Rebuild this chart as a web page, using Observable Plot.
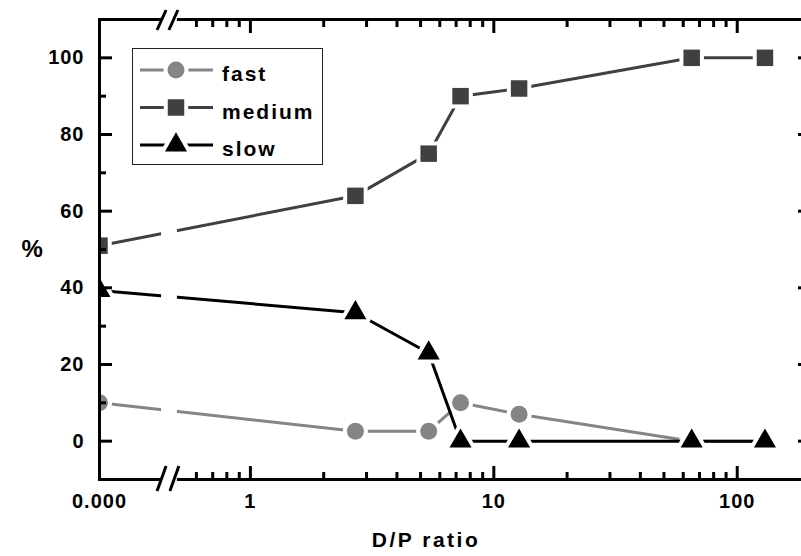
<!DOCTYPE html>
<html><head><meta charset="utf-8">
<script src="https://cdn.jsdelivr.net/npm/d3@7"></script>
<script src="https://cdn.jsdelivr.net/npm/@observablehq/plot@0.6"></script>
<style>
body{margin:0;background:#fff;}
#chart{position:relative;width:801px;height:556px;overflow:hidden;}
</style></head><body><div id="chart"></div>
<script>
// ---- data ----
const ratio  = [0, 2.7, 5.4, 7.3, 12.7, 65, 130];
const fast   = [10, 2.6, 2.6, 10, 7, 0, 0];
const medium = [51, 64, 75, 90, 92, 100, 100];
const slow   = [39.3, 33.5, 23, 0, 0, 0, 0];
const seriesNames = ["fast", "medium", "slow"];
const xTickValues = [0, 1, 10, 100];
const xTickLabels = ["0.000", "1", "10", "100"];
const xMinorValues = [0.6, 0.7, 0.8, 0.9, 2, 3, 4, 5, 6, 7, 8, 9, 20, 30, 40, 50, 60, 70, 80, 90];
const yTickValues = [0, 20, 40, 60, 80, 100];
const yMinorValues = [10, 30, 50, 70, 90];
const xMax = 200;

// broken log axis: 0 sits at xZero (log10 units), then a break
const xZero = -0.62;
const breakGap = [-0.365, -0.30];
const pos = v => v === 0 ? xZero : Math.log10(v);

const seriesValues = {fast, medium, slow};
const styles = {
  fast:   {color: "#858585", symbol: "circle",   r: 8.5,  d3sym: d3.symbolCircle},
  medium: {color: "#404040", symbol: "square",   r: 9.3,  d3sym: d3.symbolSquare},
  slow:   {color: "#000000", symbol: "triangle", r: 8.2,  d3sym: d3.symbolTriangle}
};
const rows = seriesNames.flatMap(s => ratio.map((r, i) => ({u: pos(r), y: seriesValues[s][i], s})));

const font = "'Liberation Sans', Arial, sans-serif";
const labelMap = new Map(xTickValues.map((v, i) => [pos(v), xTickLabels[i]]));

const marks = [];
for (const s of seriesNames) {
  const st = styles[s];
  const d = rows.filter(r => r.s === s);
  marks.push(Plot.line(d, {x: "u", y: "y", stroke: st.color, strokeWidth: 3}));
  marks.push(Plot.dot(d, {x: "u", y: "y", symbol: st.symbol, r: st.r, fill: st.color,
    stroke: "white", strokeWidth: 8, paintOrder: "stroke", strokeLinejoin: "round", clip: true}));
}
marks.push(Plot.frame({stroke: "black", strokeWidth: 3}));
// inward ticks
const tickOpts = {tickFormat: () => "", strokeWidth: 3, label: null};
for (const a of ["left", "right"]) {
  marks.push(Plot.axisY(yTickValues, {...tickOpts, anchor: a, tickSize: -13}));
  marks.push(Plot.axisY(yMinorValues, {...tickOpts, anchor: a, tickSize: -7}));
}
for (const a of ["bottom", "top"]) {
  marks.push(Plot.axisX(xTickValues.slice(1).map(pos), {...tickOpts, anchor: a, tickSize: -13}));
  marks.push(Plot.axisX(xMinorValues.map(pos), {...tickOpts, anchor: a, tickSize: -7}));
}
// labels
marks.push(Plot.axisY(yTickValues, {anchor: "left", tickSize: 0, tickPadding: 15, fontSize: 20, fontWeight: "bold", label: null}));
marks.push(Plot.axisX(xTickValues.map(pos), {anchor: "bottom", tickSize: 0, tickPadding: 14, fontSize: 20, fontWeight: "bold",
  tickFormat: d => labelMap.get(d), label: null}));
marks.push(Plot.text(["%"], {text: d => d, frameAnchor: "left", dx: -78, fontSize: 24, fontWeight: "bold"}));
marks.push(Plot.text(["D/P ratio"], {text: d => d, frameAnchor: "bottom", dx: -29, dy: 67, fontSize: 21, fontWeight: "bold"}));

const plot = Plot.plot({
  width: 801, height: 556,
  marginLeft: 99, marginRight: -9, marginTop: 19, marginBottom: 77,
  x: {type: "linear", domain: [xZero, Math.log10(xMax)], label: null},
  y: {domain: [-10, 110], label: null},
  style: {fontFamily: font, background: "white", color: "black"},
  marks
});
document.getElementById("chart").appendChild(plot);

const svg = d3.select(plot);
svg.selectAll("text").style("letter-spacing", "1px");
svg.selectAll("text").filter(function(){ return this.textContent === "D/P ratio"; }).style("letter-spacing", "2.5px");

// axis break
const xs = plot.scale("x"), ys = plot.scale("y");
const b0 = xs.apply(breakGap[0]), b1 = xs.apply(breakGap[1]);
const yTop = ys.apply(110), yBot = ys.apply(-10);
const g = svg.append("g");
g.append("rect").attr("x", b0).attr("y", yTop - 4).attr("width", b1 - b0).attr("height", yBot - yTop + 8).attr("fill", "white");
const slashes = [
  [b0 - 4, yTop + 11, b0 + 5, yTop - 9], [b1 - 8, yTop + 11, b1 + 1, yTop - 9],
  [b0 - 4, yBot + 12, b0 + 5, yBot - 13], [b1 - 7, yBot + 12, b1 + 2, yBot - 13]
];
for (const [x1, y1, x2, y2] of slashes)
  g.append("line").attr("x1", x1).attr("y1", y1).attr("x2", x2).attr("y2", y2).attr("stroke", "black").attr("stroke-width", 3);

// legend
const lg = svg.append("g").attr("font-family", font).attr("font-weight", "bold").attr("font-size", 21).attr("text-anchor", "start");
lg.append("rect").attr("x", 132.5).attr("y", 48.5).attr("width", 190).attr("height", 116).attr("fill", "white").attr("stroke", "#222").attr("stroke-width", 1);
seriesNames.forEach((s, i) => {
  const st = styles[s];
  const cy = 70 + i * 37.5;
  lg.append("line").attr("x1", 140).attr("x2", 213).attr("y1", cy).attr("y2", cy).attr("stroke", st.color).attr("stroke-width", 3);
  lg.append("path").attr("transform", `translate(176,${cy})`)
    .attr("d", d3.symbol(st.d3sym, Math.PI * st.r * st.r)())
    .attr("fill", st.color).attr("stroke", "white").attr("stroke-width", 8).attr("paint-order", "stroke").attr("stroke-linejoin", "round");
  lg.append("text").attr("x", 222).attr("y", cy + 11).attr("fill", "black").attr("text-anchor", "start").style("letter-spacing", "2px").text(s);
});
</script></body></html>
